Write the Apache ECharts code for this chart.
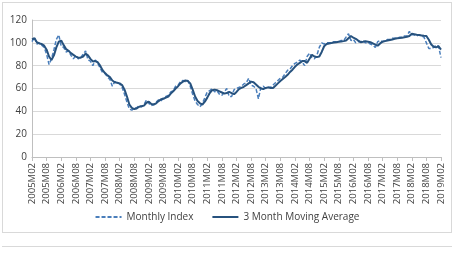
<!DOCTYPE html>
<html>
<head>
  <meta charset="utf-8">
  <title>Index chart</title>
  <script src="https://cdn.jsdelivr.net/npm/echarts@6/dist/echarts.min.js"></script>
  <style>
    body { margin: 0; background: #fff; }
    #frame { position: absolute; left: 2px; top: 2px; width: 448px; height: 229px; border: 1px solid #d9d9d9; }
    #sep { position: absolute; left: 2px; top: 246px; width: 450px; height: 0; border-top: 1px solid #d9d9d9; }
    #main { position: absolute; left: 0; top: 0; width: 454px; height: 253px; }
  </style>
</head>
<body>
  <div id="frame"></div>
  <div id="sep"></div>
  <div id="main"></div>
  <script type="text/javascript">
    // months 2005M02 .. 2019M02
    var months = [];
    for (var y = 2005; y <= 2019; y++) {
      for (var m = 1; m <= 12; m++) {
        if ((y === 2005 && m < 2) || (y === 2019 && m > 2)) continue;
        months.push(y + 'M' + (m < 10 ? '0' + m : m));
      }
    }

    var monthlyIndex = [
      101, 105, 99, 100, 98, 96, 90, 81, 86, 94, 103, 107,
      97, 96, 92, 93, 89, 86, 89, 86, 87, 90, 93, 85,
      84, 80, 85, 82, 78, 74, 73, 70, 68, 62, 66, 65,
      64, 61, 55, 48, 42, 41, 43, 43, 45, 44, 46, 50,
      47, 45, 46, 48, 50, 49, 52, 53, 54, 57, 58, 62,
      63, 66, 67, 66, 67, 62, 55, 49, 46, 44, 47, 52,
      57, 58, 60, 57, 58, 55, 54, 57, 60, 53, 53, 59,
      60, 61, 62, 64, 65, 69, 63, 62, 60, 51, 61, 62,
      60, 61, 61, 63, 65, 67, 69, 70, 73, 76, 77, 80,
      82, 83, 85, 83, 80, 88, 91, 87, 86, 89, 96, 100,
      99, 100, 100, 100, 101, 101, 101, 102, 102, 105, 108, 102,
      103, 100, 101, 101, 102, 100, 100, 99, 98, 96, 101, 102,
      101, 102, 103, 103, 104, 104, 104, 105, 105, 106, 106, 110,
      107, 107, 106, 107, 106, 105, 100, 95, 95, 96, 98, 97,
      87
    ];

    var movingAverage = [
      103, 104, 100.5, 99.5, 99, 97.5, 94, 88, 85, 89, 96, 101,
      102, 98, 94.5, 93, 91, 89.5, 88, 87, 87, 88, 90.5, 89,
      86, 83.7, 84, 83, 80, 76, 73.5, 71.5, 70, 67, 65.5, 65,
      64.5, 63, 59, 53, 46, 43, 42, 42.5, 44, 44.5, 45, 47.5,
      48.5, 46.5, 46, 47, 49, 50.5, 51, 52, 53, 55.5, 57.5, 60,
      62, 64.5, 66, 67, 66.5, 64.5, 59, 53, 49, 47, 46, 48.5,
      52, 56, 58.5, 59, 58.5, 57.5, 56.5, 55.5, 56, 57, 56, 55,
      57, 59.5, 60.5, 61.5, 63, 64.5, 66, 65.5, 63.5, 61.5, 60, 59.5,
      60.5, 61, 60.5, 60.5, 62.5, 64.5, 66.5, 68.3, 70, 72, 74.5, 76.5,
      79, 81, 82.5, 84, 84, 82.5, 86, 89.5, 88, 87.5, 88, 92,
      97, 99, 99.5, 99.8, 100.2, 100.6, 101, 101.2, 101.5, 102, 104, 106,
      104.5, 103.5, 102, 100.6, 101, 101.5, 101, 100.5, 99.5, 98.5, 97.5, 99.5,
      101, 101.5, 102, 102.5, 103, 103.5, 104, 104.2, 104.5, 104.8, 105.3, 106,
      108, 107.5, 107, 106.8, 106.5, 106.2, 106, 102.7, 98.5, 96.5, 96, 97,
      94
    ];

    var yTicks = [0, 20, 40, 60, 80, 100, 120];

    var myChart = echarts.init(document.getElementById('main'));

    var option = {
      animation: false,
      textStyle: { fontFamily: 'Open Sans' },
      grid: { left: 32, right: 13, top: 20, bottom: 96 },
      legend: {
        data: ['Monthly Index', '3 Month Moving Average'],
        bottom: 26,
        left: 'center',
        itemWidth: 26,
        itemHeight: 2,
        itemGap: 18,
        textStyle: { fontSize: 10, color: '#404040' }
      },
      xAxis: {
        type: 'category',
        data: months,
        boundaryGap: false,
        axisLine: { lineStyle: { color: '#bfbfbf' } },
        axisTick: { interval: 5, length: 4, lineStyle: { color: '#bfbfbf' } },
        axisLabel: {
          interval: 5,
          rotate: 90,
          fontSize: 9.5,
          color: '#404040',
          margin: 6
        },
        splitLine: { show: false }
      },
      yAxis: {
        type: 'value',
        min: yTicks[0],
        max: yTicks[yTicks.length - 1],
        interval: 20,
        axisLine: { show: true, lineStyle: { color: '#bfbfbf' } },
        axisTick: { show: false },
        axisLabel: { fontSize: 10, color: '#404040', margin: 5 },
        splitLine: { lineStyle: { color: '#d9d9d9' } }
      },
      series: [{
        name: 'Monthly Index',
        type: 'line',
        data: monthlyIndex,
        showSymbol: false,
        symbol: 'none',
        itemStyle: { color: '#4a7ebb' },
        lineStyle: { color: '#4a7ebb', width: 1.5, type: [4, 2] }
      }, {
        name: '3 Month Moving Average',
        type: 'line',
        data: movingAverage,
        showSymbol: false,
        symbol: 'none',
        itemStyle: { color: '#27527e' },
        lineStyle: { color: '#27527e', width: 2 }
      }]
    };

    myChart.setOption(option);
  </script>
</body>
</html>
